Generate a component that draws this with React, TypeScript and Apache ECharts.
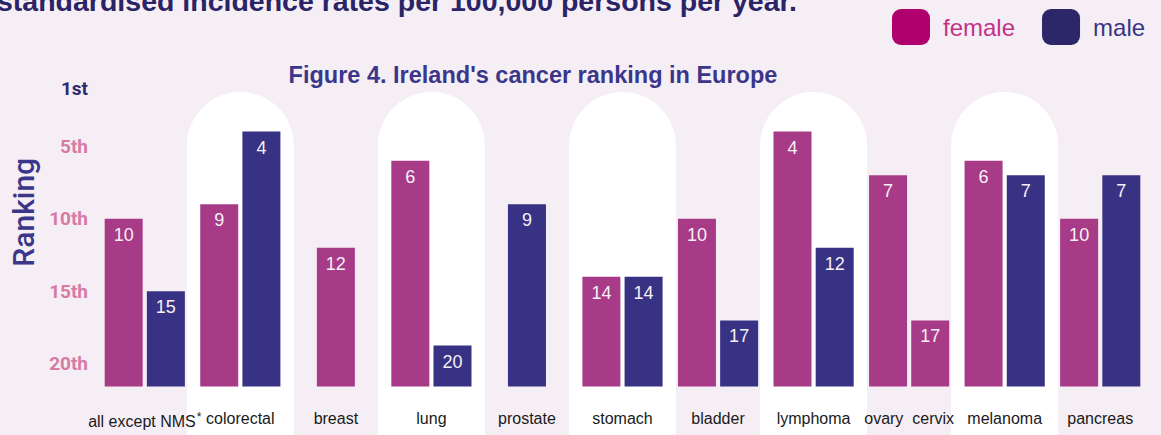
import React, { useEffect, useRef } from "react";
import * as echarts from "echarts";

// ---- data ----
const categories = [
  "all except NMS",
  "colorectal",
  "breast",
  "lung",
  "prostate",
  "stomach",
  "bladder",
  "lymphoma",
  "ovary  cervix",
  "melanoma",
  "pancreas",
];
// Ireland's rank in Europe (1 = highest); null = not applicable
const femaleRank: (number | null)[] = [10, 9, 12, 6, null, 14, 10, 4, 7, 6, 10];
const maleRank: (number | null)[] = [15, 4, null, 20, 9, 14, 17, 12, null, 7, 7];
// second female bar in the "ovary  cervix" group (cervix)
const cervixRank: (number | null)[] = [null, null, null, null, null, null, null, null, 17, null, null];
// categories drawn on a white rounded band
const highlighted = [false, true, false, true, false, true, false, true, false, true, false];
const rankTicks = [1, 5, 10, 15, 20];

const title = "Figure 4. Ireland's cancer ranking in Europe";
const cutTitle = "standardised incidence rates per 100,000 persons per year.";

// ---- styling ----
const BASE = 21.55; // rank that sits on the bar baseline
const FEMALE = "#a83b87";
const MALE = "#373283";
const BG = "#f5eef5";

const toVal = (r: number | null, keep: boolean) =>
  r == null || !keep ? null : { value: BASE - r, rank: r };

const ordinal = (n: number) => (n === 1 ? "1st" : n === 2 ? "2nd" : n === 3 ? "3rd" : n + "th");

export default function App() {
  const ref = useRef<HTMLDivElement>(null);
  useEffect(() => {
    if (!ref.current) return;
    const chart = echarts.init(ref.current, undefined, { renderer: "svg" });

    const n = categories.length;
    const idx = [...Array(n).keys()];
    const hasRight = (i: number) => maleRank[i] != null || cervixRank[i] != null;
    const pairedFemale = idx.map((i) => toVal(femaleRank[i], hasRight(i)));
    const pairedMale = idx.map((i) => toVal(maleRank[i], femaleRank[i] != null));
    const pairedCervix = idx.map((i) => toVal(cervixRank[i], femaleRank[i] != null));
    const singleFemale = idx.map((i) => toVal(femaleRank[i], !hasRight(i)));
    const singleMale = idx.map((i) => toVal(maleRank[i], femaleRank[i] == null));

    const barLabel = {
      show: true,
      position: "insideTop" as const,
      distance: 7,
      color: "#f6f0f6",
      fontSize: 18,
      fontFamily: "Liberation Sans, Arial, sans-serif",
      formatter: (p: any) => String(p.data.rank),
    };
    const barBase = {
      type: "bar" as const,
      barWidth: 38,
      barGap: "11%",
      barMinHeight: 41,
      label: barLabel,
      z: 3,
    };
    const gridLR = { left: 97, right: 13 };

    chart.setOption({
      animation: false,
      backgroundColor: BG,
      textStyle: { fontFamily: "Liberation Sans, Arial, sans-serif" },
      legend: {
        left: 887,
        top: 4,
        icon: "roundRect",
        itemWidth: 38,
        itemHeight: 36,
        itemGap: 27,
        selectedMode: false,
        textStyle: { fontSize: 24, padding: [0, 0, 0, 8], fontFamily: "Liberation Sans, Arial, sans-serif" },
        data: [
          { name: "female", itemStyle: { color: "#b0006e" }, textStyle: { color: "#c2338a" } },
          { name: "male", itemStyle: { color: "#2b2768" }, textStyle: { color: "#3a3585" } },
        ],
      },
      graphic: [
        {
          type: "text",
          x: -3,
          y: 15,
          style: {
            text: cutTitle,
            fill: "#2a2466",
            fontSize: 28.5,
            fontWeight: "bold",
            fontFamily: "Liberation Sans, Arial, sans-serif",
            align: "left",
            verticalAlign: "bottom",
          },
        },
        {
          type: "text",
          x: 533,
          y: 75,
          z: 10,
          style: {
            text: title,
            fill: "#3b3689",
            fontSize: 23.5,
            fontWeight: "bold",
            fontFamily: "Liberation Sans Narrow, Arial Narrow, sans-serif",
            align: "center",
            verticalAlign: "middle",
          },
        },
      ],
      grid: [
        { ...gridLR, top: 88, bottom: 48.5 },
        { ...gridLR, top: 92, bottom: 0 },
      ],
      xAxis: [
        {
          type: "category",
          gridIndex: 0,
          data: categories,
          z: 10,
          axisLine: { show: false },
          axisTick: { show: false },
          axisLabel: {
            interval: 0,
            margin: 24,
            fontSize: 16,
            color: "#1a1a1a",
            fontFamily: "Liberation Sans Narrow, Arial Narrow, sans-serif",
            formatter: (v: string) => (v === "all except NMS" ? v + "{sup|*}" : v),
            rich: {
              sup: {
                fontSize: 12,
                color: "#1a1a1a",
                fontFamily: "Liberation Sans Narrow, Arial Narrow, sans-serif",
                verticalAlign: "top",
                padding: [0, 0, 10, 1],
              },
            },
          },
        },
        { type: "category", gridIndex: 0, data: categories, show: false },
        { type: "category", gridIndex: 1, data: categories, show: false },
      ],
      yAxis: [
        {
          type: "value",
          gridIndex: 0,
          min: 0,
          max: BASE - 1,
          z: 10,
          splitLine: { show: false },
          axisLine: { show: false },
          axisTick: { show: false },
          name: "Ranking",
          nameLocation: "middle",
          nameGap: 53,
          nameTextStyle: {
            fontSize: 30,
            color: "#3b3689",
            fontFamily: "Roboto, sans-serif",
            fontWeight: 500,
            padding: [0, 0, 0, 50],
          },
          axisLabel: {
            customValues: rankTicks.map((r) => BASE - r),
            margin: 9,
            fontSize: 19,
            fontWeight: "bold",
            fontFamily: "Roboto, sans-serif",
            formatter: (v: number) => ordinal(Math.round(BASE - v)),
            color: (v: any) => (Math.round(BASE - Number(v)) === 1 ? "#2e2a6b" : "#d57ba6"),
          },
        },
        { type: "value", gridIndex: 1, min: 0, max: 1, show: false },
      ],
      series: [
        {
          type: "bar",
          name: "band",
          xAxisIndex: 2,
          yAxisIndex: 1,
          data: highlighted.map((h) => (h ? 1 : null)),
          barWidth: 107,
          silent: true,
          z: 0,
          itemStyle: { color: "#ffffff", borderRadius: [53.5, 53.5, 0, 0] },
        },
        { ...barBase, name: "female", xAxisIndex: 0, yAxisIndex: 0, data: pairedFemale, itemStyle: { color: FEMALE } },
        { ...barBase, name: "male", xAxisIndex: 0, yAxisIndex: 0, stack: "right", data: pairedMale, itemStyle: { color: MALE } },
        { ...barBase, name: "female", xAxisIndex: 0, yAxisIndex: 0, stack: "right", data: pairedCervix, itemStyle: { color: FEMALE } },
        { ...barBase, name: "female", xAxisIndex: 1, yAxisIndex: 0, stack: "single", data: singleFemale, itemStyle: { color: FEMALE } },
        { ...barBase, name: "male", xAxisIndex: 1, yAxisIndex: 0, stack: "single", data: singleMale, itemStyle: { color: MALE } },
      ],
    });
    return () => chart.dispose();
  }, []);

  return (
    <div
      ref={ref}
      style={{ position: "fixed", left: 0, top: 0, width: 1161, height: 435 }}
    />
  );
}
